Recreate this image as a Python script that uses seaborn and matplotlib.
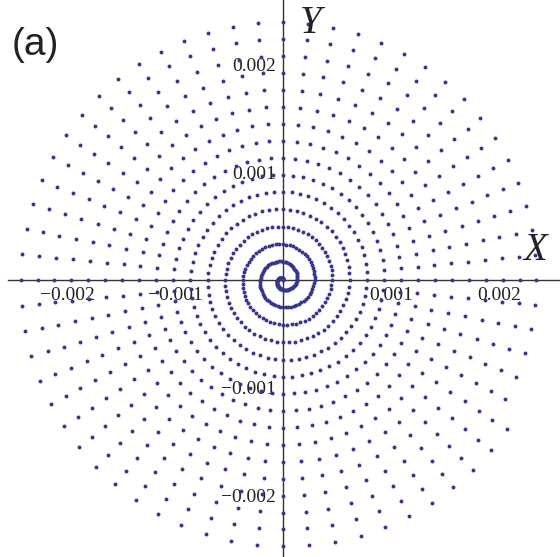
import numpy as np
import pandas as pd
import matplotlib
matplotlib.use("Agg")
import matplotlib.pyplot as plt
import seaborn as sns
from matplotlib.ticker import FixedLocator, MultipleLocator

# ---- data ----
# Points sit on 64 equally spaced directions per turn (radial spokes).
points_per_turn = 64
first_sample_index = 12          # first sample direction index (12 * 5.625 deg = 67.5 deg)
last_sample_index = 15 * 64 + 58 # last sample (just below +X axis, outer turn)
# Radius of the spiral (data units) read at known cumulative angles (deg)
turn_angle_deg = [67.5, 360, 720, 1080, 1440, 1800, 2160, 2520, 2880,
                  3240, 3600, 3960, 4320, 4680, 5040, 5400, 5760]
turn_radius = [0.0, 0.000130, 0.000292, 0.000454, 0.000616, 0.000778,
               0.000935, 0.001093, 0.001250, 0.001407, 0.001565,
               0.001722, 0.001880, 0.002037, 0.002194, 0.002347, 0.002505]

x_ticks = [-0.002, -0.001, 0.001, 0.002]
x_tick_labels = ["\u22120.002", "\u22120.001", "0.001", "0.002"]
y_ticks = [-0.002, -0.001, 0.001, 0.002]
y_tick_labels = ["\u22120.002", "\u22120.001", "0.001", "0.002"]

# ---- build the sampled spiral ----
idx = np.arange(first_sample_index, last_sample_index + 1)
ang_deg = idx * 360.0 / points_per_turn
rad = np.interp(ang_deg, turn_angle_deg, turn_radius)
df = pd.DataFrame({"X": rad * np.cos(np.deg2rad(ang_deg)),
                   "Y": rad * np.sin(np.deg2rad(ang_deg))})

sns.set_style("white")
plt.rcParams["font.family"] = ["Liberation Serif", "DejaVu Serif"]

fig = plt.figure(figsize=(5.6, 5.57), dpi=100)
ax = fig.add_axes([0, 0, 1, 1])
sns.scatterplot(data=df, x="X", y="Y", ax=ax, s=8, color="#36368f",
                linewidth=0, legend=False, zorder=3)

ax.set_xlim(-0.00262, 0.002565)
ax.set_ylim(-0.002565, 0.002593)
ax.set_aspect("auto")

for side in ["top", "right"]:
    ax.spines[side].set_visible(False)
ax.spines["left"].set_position(("data", 0))
ax.spines["bottom"].set_position(("data", 0))
for side in ["left", "bottom"]:
    ax.spines[side].set_color("#333333")
    ax.spines[side].set_linewidth(1.0)
    ax.spines[side].set_zorder(2)
ax.spines["bottom"].set_bounds(-0.00255, 0.002565)

ax.xaxis.set_major_locator(FixedLocator(x_ticks))
ax.set_xticklabels(x_tick_labels)
ax.yaxis.set_major_locator(FixedLocator(y_ticks))
ax.set_yticklabels(y_tick_labels)
ax.xaxis.set_minor_locator(MultipleLocator(0.0002))
ax.yaxis.set_minor_locator(MultipleLocator(0.0002))
ax.tick_params(which="major", direction="inout", length=6, width=0.9,
               color="#333333", labelsize=14, labelcolor="#222222", pad=2)
ax.tick_params(which="minor", direction="inout", length=3, width=0.7,
               color="#555555")
ax.set_xlabel("")
ax.set_ylabel("")
ax.grid(False)

ax.text(0.00016, 0.00238, "Y", fontsize=28, style="italic",
        family=["Liberation Serif"], color="#222222", ha="left", va="center")
ax.text(0.002445, 0.00027, "X", fontsize=28, style="italic",
        family=["Liberation Serif"], color="#222222", ha="right", va="center")
fig.text(0.02, 0.92, "(a)", fontsize=28, family=["Liberation Sans"],
         color="#222222", ha="left", va="center")

fig.savefig("out.png", dpi=100)
